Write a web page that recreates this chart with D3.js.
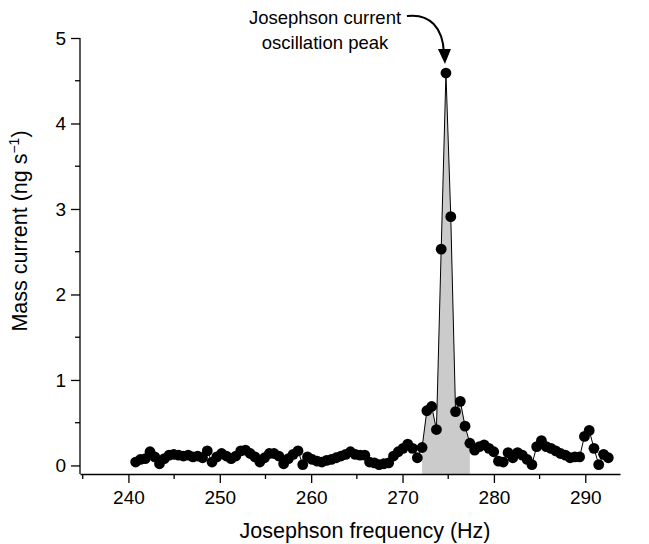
<!DOCTYPE html>
<meta charset="utf-8">
<style>
body { margin: 0; background: #fff; }
svg text { font-family: "Liberation Sans", Arial, sans-serif; fill: #000; }
.axis path, .axis line { stroke: #000; stroke-width: 1.3; }
</style>
<svg width="649" height="544"></svg>
<script src="https://cdnjs.cloudflare.com/ajax/libs/d3/7.8.5/d3.min.js"></script>
<script>
// Josephson frequency (Hz)
var freqs = [
  240.79, 241.31, 241.84, 242.36, 242.88, 243.40, 243.93, 244.45, 244.97, 245.49,
  246.02, 246.54, 247.06, 247.58, 248.11, 248.63, 249.15, 249.67, 250.20, 250.72,
  251.24, 251.76, 252.29, 252.81, 253.33, 253.85, 254.38, 254.90, 255.42, 255.94,
  256.47, 256.99, 257.51, 258.03, 258.56, 259.08, 259.60, 260.12, 260.65, 261.17,
  261.69, 262.21, 262.74, 263.26, 263.78, 264.30, 264.83, 265.35, 265.87, 266.39,
  266.92, 267.44, 267.96, 268.48, 269.01, 269.53, 270.05, 270.57, 271.10, 271.62,
  272.14, 272.66, 273.19, 273.71, 274.23, 274.75, 275.28, 275.80, 276.32, 276.84,
  277.37, 277.89, 278.41, 278.93, 279.46, 279.98, 280.50, 281.02, 281.55, 282.07,
  282.59, 283.11, 283.64, 284.16, 284.68, 285.20, 285.73, 286.25, 286.77, 287.29,
  287.82, 288.34, 288.86, 289.38, 289.91, 290.43, 290.95, 291.47, 292.00, 292.52
];
// Mass current (ng/s)
var current = [
  0.04, 0.07, 0.08, 0.16, 0.10, 0.02, 0.08, 0.12, 0.13, 0.12,
  0.11, 0.12, 0.10, 0.11, 0.09, 0.17, 0.04, 0.10, 0.14, 0.11,
  0.08, 0.11, 0.17, 0.18, 0.14, 0.10, 0.04, 0.09, 0.14, 0.14,
  0.11, 0.02, 0.08, 0.13, 0.17, 0.01, 0.10, 0.07, 0.05, 0.04,
  0.06, 0.07, 0.09, 0.11, 0.13, 0.16, 0.13, 0.12, 0.12, 0.04,
  0.03, 0.01, 0.02, 0.03, 0.11, 0.16, 0.20, 0.25, 0.20, 0.09,
  0.21, 0.64, 0.69, 0.42, 2.53, 4.59, 2.91, 0.63, 0.75, 0.46,
  0.26, 0.18, 0.22, 0.24, 0.20, 0.16, 0.05, 0.04, 0.15, 0.09,
  0.15, 0.12, 0.07, 0.01, 0.22, 0.29, 0.22, 0.20, 0.17, 0.14,
  0.12, 0.09, 0.10, 0.10, 0.34, 0.41, 0.20, 0.01, 0.13, 0.09
];
var peakBand = [272.1, 277.4];
var xTicks = [240, 250, 260, 270, 280, 290];
var xMinor = [235, 245, 255, 265, 275, 285];
var yTicks = [0, 1, 2, 3, 4, 5];
var yMinor = [0.5, 1.5, 2.5, 3.5, 4.5];

var data = freqs.map(function(f, i) { return {f: f, v: current[i]}; });

var svg = d3.select("svg");

var x = d3.scaleLinear().domain([234.7, 293.8]).range([80, 620]);
var y = d3.scaleLinear().domain([-0.1, 5]).range([474, 38]);

// shaded peak
var band = data.filter(function(d) { return d.f >= peakBand[0] && d.f <= peakBand[1]; });
svg.append("path")
    .datum(band)
    .attr("fill", "#cbcbcb")
    .attr("d", d3.area()
      .x(function(d) { return x(d.f); })
      .y0(y(-0.1))
      .y1(function(d) { return y(d.v); }));

svg.append("path")
    .datum(data)
    .attr("fill", "none")
    .attr("stroke", "#000")
    .attr("stroke-width", 1)
    .attr("d", d3.line()
      .x(function(d) { return x(d.f); })
      .y(function(d) { return y(d.v); }));

svg.append("g")
  .selectAll("circle")
    .data(data)
  .enter().append("circle")
    .attr("cx", function(d) { return x(d.f); })
    .attr("cy", function(d) { return y(d.v); })
    .attr("r", 5.4)
    .attr("fill", "#000");

// axes
var xAxis = svg.append("g")
    .attr("class", "axis")
    .attr("transform", "translate(0," + y(-0.1) + ")")
    .call(d3.axisBottom(x).tickValues(xTicks).tickSize(9).tickSizeOuter(0).tickPadding(8));
xAxis.selectAll("text").style("font-size", "19px");
xAxis.selectAll(".minor")
    .data(xMinor)
  .enter().append("line")
    .attr("class", "minor")
    .attr("x1", function(d) { return x(d); })
    .attr("x2", function(d) { return x(d); })
    .attr("y2", 5);

var yAxis = svg.append("g")
    .attr("class", "axis")
    .attr("transform", "translate(" + x(234.7) + ",0)")
    .call(d3.axisLeft(y).tickValues(yTicks).tickFormat(d3.format("d")).tickSize(9).tickSizeOuter(0).tickPadding(5));
yAxis.select(".domain").attr("d", "M0," + y(5) + "V" + y(-0.1));
yAxis.selectAll("text").style("font-size", "19px");
yAxis.selectAll(".minor")
    .data(yMinor)
  .enter().append("line")
    .attr("class", "minor")
    .attr("y1", function(d) { return y(d); })
    .attr("y2", function(d) { return y(d); })
    .attr("x2", -5);

svg.append("text")
    .attr("x", 365)
    .attr("y", 538)
    .attr("text-anchor", "middle")
    .style("font-size", "21.5px")
    .text("Josephson frequency (Hz)");

var yt = svg.append("text")
    .attr("transform", "translate(27,231) rotate(-90)")
    .attr("text-anchor", "middle")
    .style("font-size", "21.5px");
yt.append("tspan").text("Mass current (ng s");
yt.append("tspan").attr("dy", -8).style("font-size", "14px").text("\u22121");
yt.append("tspan").attr("dy", 8).text(")");

// annotation
var note = svg.append("text")
    .attr("text-anchor", "middle")
    .style("font-size", "18.5px");
note.append("tspan").attr("x", 325).attr("y", 24).text("Josephson current");
note.append("tspan").attr("x", 325).attr("y", 49).text("oscillation peak");

var peak = data[d3.maxIndex(data, function(d) { return d.v; })];
var px = x(peak.f), py = y(peak.v);
svg.append("path")
    .attr("fill", "none")
    .attr("stroke", "#000")
    .attr("stroke-width", 2)
    .attr("d", "M" + (px - 39) + "," + (py - 57) + "C" + (px - 16) + "," + (py - 60) + " " + (px - 3) + "," + (py - 45) + " " + (px - 2) + "," + (py - 20));
svg.append("path")
    .attr("fill", "#000")
    .attr("d", "M" + (px - 8) + "," + (py - 24) + "L" + (px + 5) + "," + (py - 24) + "L" + (px - 1) + "," + (py - 9) + "Z");
</script>
